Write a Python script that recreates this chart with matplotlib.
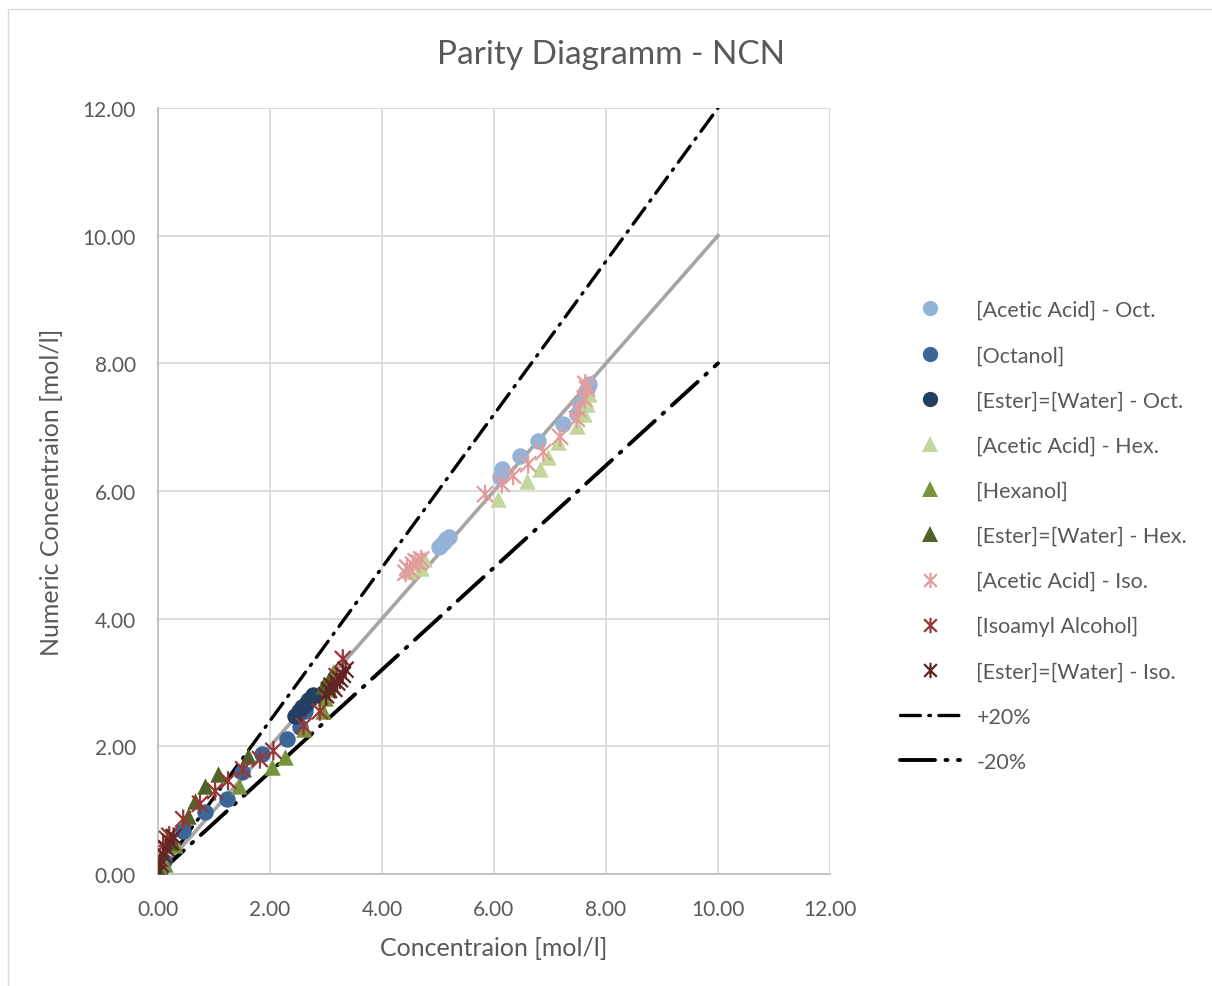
import matplotlib
matplotlib.use("Agg")
import matplotlib.pyplot as plt
from matplotlib.lines import Line2D
from matplotlib.patches import Rectangle
from matplotlib.path import Path

plt.rcParams['font.family'] = ['Lato', 'DejaVu Sans']
txt = '#595959'

# data (x = concentration, y = numeric concentration)
acetic_oct_x = [5.02, 5.06, 5.10, 5.15, 5.20, 6.11, 6.14, 6.46, 6.79, 7.23, 7.48, 7.54, 7.66, 7.70]
acetic_oct_y = [5.12, 5.16, 5.20, 5.25, 5.28, 6.22, 6.34, 6.55, 6.78, 7.05, 7.20, 7.36, 7.60, 7.68]

octanol_x = [0.02, 0.10, 0.45, 0.84, 1.23, 1.50, 1.85, 2.30, 2.54, 2.62, 2.68]
octanol_y = [0.13, 0.20, 0.67, 0.97, 1.17, 1.60, 1.88, 2.11, 2.30, 2.55, 2.72]

ester_oct_x = [0.00, 0.01, 0.03, 0.05, 2.45, 2.52, 2.58, 2.65, 2.72, 2.76]
ester_oct_y = [0.00, 0.03, 0.08, 0.15, 2.48, 2.55, 2.62, 2.66, 2.74, 2.80]

acetic_hex_x = [4.50, 4.70, 4.75, 6.07, 6.59, 6.82, 6.96, 7.14, 7.48, 7.60, 7.66, 7.70]
acetic_hex_y = [4.75, 4.80, 4.93, 5.87, 6.16, 6.34, 6.53, 6.77, 7.02, 7.20, 7.36, 7.52]

hexanol_x = [0.00, 0.05, 0.12, 0.30, 1.45, 2.03, 2.27, 2.60, 2.95, 2.98, 3.05, 3.12]
hexanol_y = [0.00, 0.05, 0.15, 0.45, 1.38, 1.67, 1.83, 2.27, 2.55, 2.75, 2.90, 3.16]

ester_hex_x = [0.02, 0.25, 0.54, 0.66, 0.84, 1.07, 1.61, 2.95, 3.05]
ester_hex_y = [0.05, 0.50, 0.91, 1.14, 1.38, 1.57, 1.85, 2.95, 3.05]

acetic_iso_x = [4.42, 4.45, 4.50, 4.55, 4.60, 4.65, 4.70, 5.84, 6.14, 6.34, 6.61, 6.88, 7.18, 7.48, 7.50, 7.62, 7.66, 7.63]
acetic_iso_y = [4.72, 4.80, 4.76, 4.85, 4.90, 4.88, 4.93, 5.95, 6.11, 6.24, 6.42, 6.61, 6.85, 7.13, 7.28, 7.44, 7.60, 7.68]

isoamyl_x = [0.04, 0.09, 0.16, 0.20, 0.45, 0.75, 1.02, 1.25, 1.52, 1.82, 2.06, 2.60, 2.89, 3.19, 3.30]
isoamyl_y = [0.23, 0.44, 0.55, 0.60, 0.86, 1.10, 1.30, 1.46, 1.64, 1.80, 1.93, 2.32, 2.55, 3.10, 3.37]

ester_iso_x = [0.00, 0.05, 0.10, 0.15, 0.22, 0.28, 3.00, 3.05, 3.10, 3.15, 3.20, 3.25, 3.30, 3.35]
ester_iso_y = [0.02, 0.15, 0.30, 0.40, 0.50, 0.58, 2.80, 2.88, 2.95, 2.90, 3.00, 3.05, 3.12, 3.20]

line_x = [0, 10]
parity_y = [0, 10]
plus20_y = [0, 12]
minus20_y = [0, 8]

ticks = [0, 2, 4, 6, 8, 10, 12]

fig = plt.figure(figsize=(12.12, 9.87), dpi=100)
fig.patches.append(Rectangle((8 / 1212, -0.1), 1.2, 1 - 10 / 987 + 0.1, transform=fig.transFigure,
                             fill=False, edgecolor='#d9d9d9', linewidth=1))
ax = fig.add_axes([158 / 1212, 112 / 987, 672 / 1212, 766 / 987])

ax.plot(line_x, parity_y, color='#a5a5a5', lw=2.6, zorder=1)

# excel-style star: an X with a vertical bar through it
star = Path([(-1, -1), (1, 1), (-1, 1), (1, -1), (0, -1.2), (0, 1.2)],
            [Path.MOVETO, Path.LINETO, Path.MOVETO, Path.LINETO, Path.MOVETO, Path.LINETO])

series = [
    (acetic_oct_x, acetic_oct_y, 'o', '#95b3d7', '[Acetic Acid] - Oct.'),
    (octanol_x, octanol_y, 'o', '#3a6699', '[Octanol]'),
    (ester_oct_x, ester_oct_y, 'o', '#253f62', '[Ester]=[Water] - Oct.'),
    (acetic_hex_x, acetic_hex_y, '^', '#c3d69b', '[Acetic Acid] - Hex.'),
    (hexanol_x, hexanol_y, '^', '#77933c', '[Hexanol]'),
    (ester_hex_x, ester_hex_y, '^', '#4f6228', '[Ester]=[Water] - Hex.'),
    (acetic_iso_x, acetic_iso_y, star, '#e39c9c', '[Acetic Acid] - Iso.'),
    (isoamyl_x, isoamyl_y, star, '#953735', '[Isoamyl Alcohol]'),
    (ester_iso_x, ester_iso_y, star, '#632523', '[Ester]=[Water] - Iso.'),
]
handles = []
for xs, ys, m, c, lab in series:
    if m is star:
        ax.scatter(xs, ys, marker=m, s=190, facecolors='none', edgecolors=c, linewidths=1.6, zorder=3)
        handles.append(Line2D([], [], ls='', marker=m, ms=11, mfc='none', mec=c, mew=1.6, label=lab))
    else:
        ax.scatter(xs, ys, marker=m, s=140, color=c, linewidths=0, zorder=3)
        handles.append(Line2D([], [], ls='', marker=m, ms=11, color=c, mew=0, label=lab))

p20, = ax.plot(line_x, plus20_y, color='black', lw=2.4, dashes=(6, 2.5, 0.5, 2.5),
               dash_capstyle='round', zorder=2, label='+20%')
m20, = ax.plot(line_x, minus20_y, color='black', lw=2.8, dashes=(9, 2.7, 0.5, 2.7),
               dash_capstyle='round', zorder=2, label='-20%')
handles += [p20, m20]

ax.set_xlim(0, 12)
ax.set_ylim(0, 12)
ax.set_xticks(ticks)
ax.set_yticks(ticks)
ax.set_xticklabels([f"{t:.2f}" for t in ticks])
ax.set_yticklabels([f"{t:.2f}" for t in ticks])
ax.tick_params(length=0, labelsize=15, labelcolor=txt)
ax.tick_params(axis='x', pad=18)
ax.tick_params(axis='y', pad=16)
ax.grid(True, color='#d9d9d9', lw=1.3, zorder=0)
ax.set_axisbelow(True)
for s in ['top', 'right']:
    ax.spines[s].set_visible(False)
for s in ['left', 'bottom']:
    ax.spines[s].set_color('#bfbfbf')
    ax.spines[s].set_linewidth(1.3)

ax.set_xlabel('Concentraion [mol/l]', fontsize=18, color=txt, labelpad=12)
ax.set_ylabel('Numeric Concentraion [mol/l]', fontsize=18, color=txt, labelpad=14)
fig.text(611 / 1212, 1 - 55 / 987, 'Parity Diagramm - NCN', fontsize=24, color=txt,
         ha='center', va='center')

fig.legend(handles=handles, loc='upper left', bbox_to_anchor=(900 / 1212, 1 - 301 / 987),
           frameon=False, fontsize=15.5, labelcolor=txt, handlelength=2.8, handletextpad=0.75,
           labelspacing=1.17, borderpad=0, borderaxespad=0)

fig.savefig('out.png', dpi=100)
